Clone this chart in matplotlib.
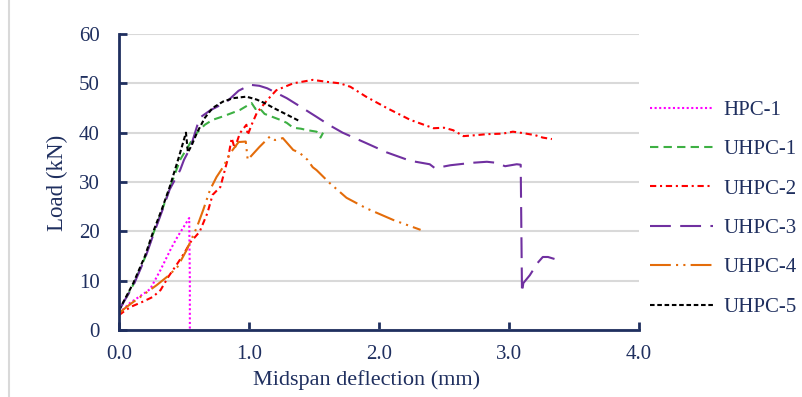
import matplotlib
matplotlib.use("Agg")
import matplotlib.pyplot as plt
from matplotlib.lines import Line2D

# ---- data ----
hpc1_x = [0, 0.085, 0.17, 0.24, 0.32, 0.4, 0.45, 0.5, 0.54, 0.545, 0.545]
hpc1_y = [3.4, 5.5, 7.0, 8.3, 12.2, 16.5, 18.9, 21.0, 22.7, 10.0, 0.0]

uhpc1_x = [0, 0.05, 0.11, 0.2, 0.26, 0.33, 0.39, 0.47, 0.55, 0.6, 0.66, 0.72, 0.8, 0.93,
           1.02, 1.05, 1.08, 1.12, 1.18, 1.24, 1.29, 1.34, 1.4, 1.45, 1.52, 1.55, 1.57]
uhpc1_y = [4, 6.3, 9.2, 14.7, 19.3, 24.2, 28.7, 34.5, 38, 40, 41.6, 42.6, 43.3, 44.6,
           46, 44.8, 45, 43.8, 43.2, 42.6, 42, 41, 40.8, 40.5, 40.2, 39, 40]

uhpc2_x = [0, 0.05, 0.1, 0.18, 0.26, 0.32, 0.38, 0.45, 0.5, 0.55, 0.62, 0.68, 0.72, 0.78,
           0.84, 0.867, 0.89, 0.93, 0.98, 0.99, 1.02, 1.06, 1.14, 1.21, 1.34, 1.49, 1.6,
           1.7, 1.78, 1.9, 2.06, 2.24, 2.42, 2.5, 2.57, 2.65, 2.75, 2.83, 2.95, 3.03,
           3.11, 3.2, 3.26, 3.33]
uhpc2_y = [3, 4, 4.8, 5.7, 6.7, 8.1, 10.8, 13.5, 15.5, 17.8, 19.9, 23.7, 27.4, 29,
           35, 38.9, 36.8, 39.9, 41.6, 39.5, 41.6, 44, 46.6, 48.6, 50, 50.7, 50.3,
           50, 49.3, 47.3, 45, 42.6, 40.9, 41, 40.5, 39.3, 39.5, 39.7, 39.8, 40.2,
           39.9, 39.5, 39, 38.7]

uhpc3_x = [0, 0.05, 0.11, 0.2, 0.26, 0.33, 0.39, 0.47, 0.5, 0.55, 0.62, 0.7, 0.83, 0.92,
           1.01, 1.08, 1.14, 1.29, 1.4, 1.52, 1.62, 1.72, 1.9, 2.06, 2.24, 2.39, 2.43,
           2.55, 2.72, 2.83, 2.9, 2.97, 3.06, 3.09, 3.1, 3.11, 3.16, 3.22, 3.26, 3.3, 3.35]
uhpc3_y = [4, 6.3, 9, 14.5, 19, 24, 28.5, 32.4, 34.5, 37, 43, 44.5, 46.3, 48.5,
           49.7, 49.5, 49, 47, 45.2, 43.2, 41.5, 40, 37.9, 36, 34.3, 33.6, 32.8,
           33.4, 33.9, 34.1, 33.9, 33.2, 33.6, 33.5, 7.5, 9.5, 11.1, 13.6, 14.8, 14.8, 14.4]

uhpc4_x = [0, 0.05, 0.1, 0.18, 0.29, 0.38, 0.45, 0.52, 0.6, 0.65, 0.7, 0.75, 0.8, 0.86,
           0.92, 0.975, 0.99, 1.08, 1.16, 1.2, 1.26, 1.34, 1.39, 1.45, 1.49, 1.52, 1.62,
           1.75, 1.9, 2.11, 2.32]
uhpc4_y = [3.4, 4.5, 5.5, 7, 9.1, 11, 12.8, 16.2, 20.9, 24.5, 28.4, 31, 33, 36,
           38.1, 38.2, 34.5, 37.1, 39.2, 38.5, 38.9, 36.5, 35.9, 34.5, 33, 32.4, 29.8,
           26.8, 24.7, 22.3, 20.3]

uhpc5_x = [0, 0.05, 0.11, 0.2, 0.26, 0.33, 0.39, 0.46, 0.515, 0.53, 0.56, 0.6, 0.66, 0.72,
           0.8, 0.88, 0.98, 1.06, 1.12, 1.19, 1.28, 1.37, 1.39]
uhpc5_y = [4, 6.5, 9.5, 15, 19.7, 24.5, 29, 35, 40, 36, 37.5, 40, 43, 45,
           46.3, 47, 47.3, 46.7, 46, 45, 43.8, 42.6, 42.3]

labels = ["HPC-1", "UHPC-1", "UHPC-2", "UHPC-3", "UHPC-4", "UHPC-5"]
x_ticks = [0.0, 1.0, 2.0, 3.0, 4.0]
y_ticks = [0, 10, 20, 30, 40, 50, 60]

navy = "#1F2F5F"
plt.rcParams["font.family"] = ["Liberation Serif", "DejaVu Serif"]

fig = plt.figure(figsize=(8.03, 3.97), dpi=100)
ax = fig.add_axes([119 / 803, 1 - 330 / 397, 520 / 803, 296 / 397])

series = [
    (hpc1_x, hpc1_y, "#FF00FF", (0, (1, 1.2))),
    (uhpc1_x, uhpc1_y, "#3DB043", (0, (4, 2.5))),
    (uhpc2_x, uhpc2_y, "#FF0000", (0, (3, 1.8, 1, 1.8))),
    (uhpc3_x, uhpc3_y, "#7030A0", (0, (10, 4.5))),
    (uhpc4_x, uhpc4_y, "#E46C0A", (0, (10, 2.5, 1, 2.5, 1, 2.5))),
    (uhpc5_x, uhpc5_y, "#000000", (0, (2.2, 1.3))),
]
handles = []
for (xs, ys, c, ls), lab in zip(series, labels):
    h, = ax.plot(xs, ys, color=c, linestyle=ls, linewidth=1.5, label=lab)
    handles.append(h)

ax.set_xlim(0, 4)
ax.set_ylim(0, 60)
ax.set_xticks(x_ticks)
ax.set_xticklabels([f"{v:.1f}" for v in x_ticks])
ax.set_yticks(y_ticks)
ax.grid(axis="y", color="#D9D9D9", linewidth=1.5)
ax.set_axisbelow(True)
for s in ["top", "right"]:
    ax.spines[s].set_visible(False)
for s in ["left", "bottom"]:
    ax.spines[s].set_color(navy)
    ax.spines[s].set_linewidth(2)
ax.tick_params(axis="both", direction="in", length=6, width=2, color=navy,
               labelcolor=navy, labelsize=15)
ax.tick_params(axis="y", pad=14)
ax.tick_params(axis="x", pad=11)

ax.set_xlabel("Midspan deflection (mm)", fontsize=16, color=navy, labelpad=4)
ax.xaxis.set_label_coords(0.477, -0.135)
ax.set_ylabel("Load (kN)", fontsize=16.5, color=navy)
ax.yaxis.set_label_coords(-0.098, (330 - 183) / 296)

leg = fig.legend(handles=handles, loc="upper left", bbox_to_anchor=(642 / 803, 1 - 92 / 397),
                 frameon=False, fontsize=15, handlelength=3.03, labelspacing=0.95,
                 handletextpad=0.48, borderaxespad=0)
for t in leg.get_texts():
    t.set_color(navy)

fig.add_artist(Line2D([9 / 803, 9 / 803], [0, 1], transform=fig.transFigure,
                      color="#D9D9D9", linewidth=1.5))

fig.savefig("out.png", dpi=100)
